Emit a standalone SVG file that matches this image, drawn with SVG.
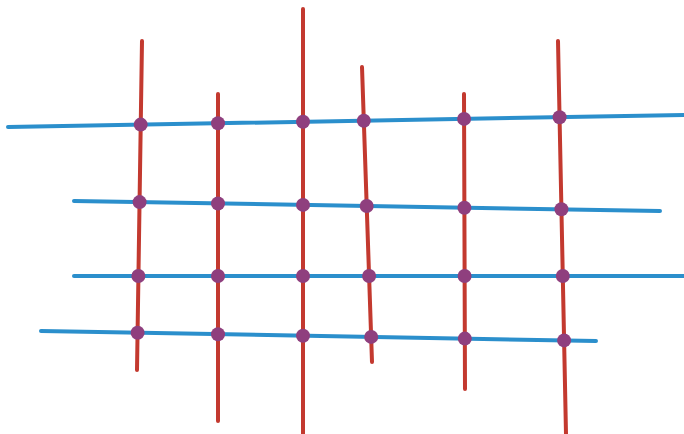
<svg xmlns="http://www.w3.org/2000/svg" width="684" height="434" viewBox="0 0 684 434">
<style>
.h{stroke:#2b8fcc;stroke-width:4;stroke-linecap:round;fill:none}
.v{stroke:#c3392f;stroke-width:4;stroke-linecap:round;fill:none}
.d{fill:#8f3f7e}
</style>
<rect width="684" height="434" fill="#ffffff"/>
<g id="connectors">
<line class="h" x1="8" y1="127" x2="684" y2="115"/>
<line class="h" x1="74" y1="201" x2="660" y2="211"/>
<line class="h" x1="74" y1="276" x2="684" y2="276"/>
<line class="h" x1="41" y1="331" x2="596" y2="341"/>
<line class="v" x1="142" y1="41" x2="137" y2="370"/>
<line class="v" x1="218" y1="94" x2="218" y2="421"/>
<line class="v" x1="303" y1="9" x2="303" y2="434"/>
<line class="v" x1="362" y1="67" x2="372" y2="362"/>
<line class="v" x1="464" y1="94" x2="465" y2="389"/>
<line class="v" x1="558" y1="41" x2="566" y2="434"/>
</g>
<g id="row1">
<circle class="d" cx="140.7" cy="124.6" r="7"/>
<circle class="d" cx="218" cy="123.3" r="7"/>
<circle class="d" cx="303" cy="121.8" r="7"/>
<circle class="d" cx="363.8" cy="120.7" r="7"/>
<circle class="d" cx="464.1" cy="118.9" r="7"/>
<circle class="d" cx="559.6" cy="117.3" r="7"/>
</g>
<g id="row2">
<circle class="d" cx="139.6" cy="202.1" r="7"/>
<circle class="d" cx="218" cy="203.5" r="7"/>
<circle class="d" cx="303" cy="204.9" r="7"/>
<circle class="d" cx="366.7" cy="206" r="7"/>
<circle class="d" cx="464.4" cy="207.7" r="7"/>
<circle class="d" cx="561.4" cy="209.3" r="7"/>
</g>
<g id="row3">
<circle class="d" cx="138.4" cy="276" r="7"/>
<circle class="d" cx="218" cy="276" r="7"/>
<circle class="d" cx="303" cy="276" r="7"/>
<circle class="d" cx="369.1" cy="276" r="7"/>
<circle class="d" cx="464.6" cy="276" r="7"/>
<circle class="d" cx="562.8" cy="276" r="7"/>
</g>
<g id="row4">
<circle class="d" cx="137.6" cy="332.7" r="7"/>
<circle class="d" cx="218" cy="334.2" r="7"/>
<circle class="d" cx="303" cy="335.7" r="7"/>
<circle class="d" cx="371.2" cy="336.9" r="7"/>
<circle class="d" cx="464.8" cy="338.6" r="7"/>
<circle class="d" cx="564.1" cy="340.4" r="7"/>
</g>
</svg>
